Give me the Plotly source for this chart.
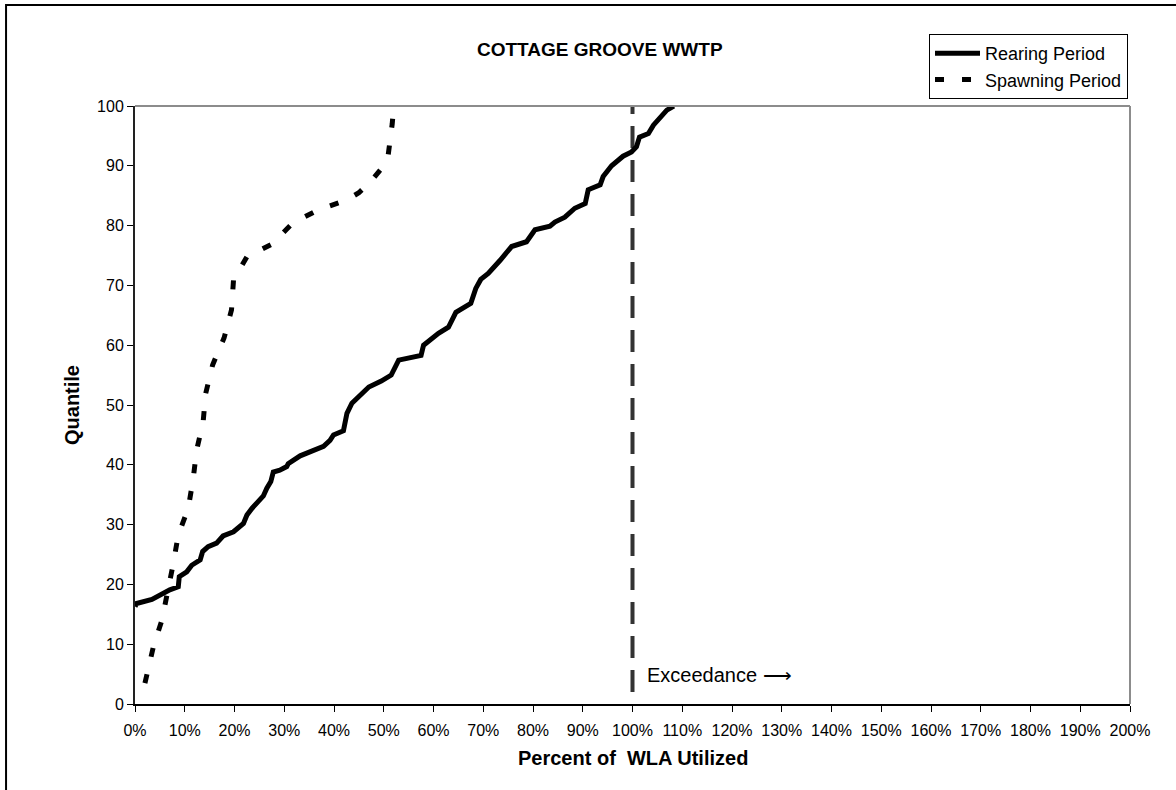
import plotly.graph_objects as go

# ---- data ----
rearing_x = [0, 0.3, 3.4, 5, 7, 8.7, 8.9, 10.4, 11.4, 13.1, 13.6, 14.7, 16.4, 17.7, 19.8,
             21.8, 22.5, 23.5, 24.8, 25.8, 26.5, 27.3, 27.8, 29.1, 30.5, 30.8, 33.2, 37.9,
             39.2, 39.9, 41.9, 42.6, 43.6, 45.2, 47, 49.5, 51.5, 53, 57.5, 58, 59.5, 61, 63,
             64.5, 67.5, 68.5, 69.5, 71, 73.4, 75.7, 78.7, 80.4, 83.4, 84.4, 86.4, 88.4,
             90.5, 91.1, 93.5, 94.1, 95.8, 98.1, 99.8, 100.8, 101.4, 103.2, 104.2, 106.2,
             106.9, 108.3]
rearing_q = [16.3, 16.8, 17.5, 18.2, 19.1, 19.6, 21.3, 22.1, 23.2, 24.1, 25.5, 26.3, 26.9,
             28.1, 28.8, 30.2, 31.6, 32.7, 33.8, 34.8, 36.1, 37.2, 38.8, 39.1, 39.7, 40.2,
             41.5, 43.1, 44.1, 45, 45.7, 48.6, 50.3, 51.7, 53, 54, 55, 57.5, 58.3, 60, 61,
             62, 63, 65.5, 67, 69.5, 71, 72, 74.2, 76.5, 77.3, 79.3, 79.9, 80.6, 81.4, 82.9,
             83.7, 86, 86.8, 88.2, 90, 91.6, 92.3, 93.2, 94.8, 95.4, 96.8, 98.5, 99.3, 100]

spawning_x = [2, 3.7, 5.4, 6.5, 7.7, 8.7, 10.7, 11.7, 12.4, 13.7, 14.2, 15.6, 17.9, 19.4,
              19.8, 22.5, 27.5, 31.8, 36.8, 42.6, 45, 47.5, 49.5, 50.8, 51.3, 51.7, 52]
spawning_q = [3.5, 9.6, 14, 18.2, 23.5, 28.3, 32.7, 37.7, 42.5, 47.2, 51.9, 56.7, 61.2,
              65.9, 70.9, 74.8, 76.9, 80.5, 82.6, 84.3, 85.5, 87.5, 89.5, 91.2, 94, 97, 100]

exceedance_x = 100
exceedance_q = [2, 100]
x_ticks = list(range(0, 201, 10))
y_ticks = list(range(0, 101, 10))

FONT = "Liberation Sans, Arial, sans-serif"

fig = go.Figure()
fig.add_trace(go.Scatter(x=rearing_x, y=rearing_q, mode="lines", name="Rearing Period",
                         line=dict(color="black", width=5)))
fig.add_trace(go.Scatter(x=spawning_x, y=spawning_q, mode="lines", name="Spawning Period",
                         line=dict(color="black", width=5, dash="9px,18px")))

# 100% threshold line
fig.add_shape(type="line", xref="x", yref="y", x0=exceedance_x, x1=exceedance_x,
              y0=exceedance_q[0], y1=exceedance_q[1],
              line=dict(color="#333333", width=4, dash="22px,12px"), layer="below")

# gray top/right plot border
fig.add_shape(type="line", xref="paper", yref="paper", x0=0, x1=1, y0=1, y1=1,
              line=dict(color="#8c8c8c", width=2))
fig.add_shape(type="line", xref="paper", yref="paper", x0=1, x1=1, y0=0, y1=1,
              line=dict(color="#8c8c8c", width=2))
# outer frame
fig.add_shape(type="rect", xref="paper", yref="paper", x0=-0.1296, x1=1.08, y0=-0.17, y1=1.1689,
              line=dict(color="black", width=2))

fig.add_annotation(text="<b>COTTAGE GROOVE WWTP</b>", xref="paper", yref="paper",
                   x=0.4673, y=1.0953, xanchor="center", yanchor="middle", showarrow=False,
                   font=dict(family=FONT, size=19, color="black"))
fig.add_annotation(text="<b>Percent of \u00a0WLA Utilized</b>", xref="paper", yref="paper",
                   x=0.5, y=-0.0903, xanchor="center", yanchor="middle", showarrow=False,
                   font=dict(family=FONT, size=20, color="black"))
fig.add_annotation(text="<b>Quantile</b>", xref="paper", yref="paper", textangle=-90,
                   x=-0.0633, y=0.5, xanchor="center", yanchor="middle", showarrow=False,
                   font=dict(family=FONT, size=20, color="black"))
fig.add_annotation(text="Exceedance \u27f6", xref="x", yref="y", x=102.5, y=4.85,
                   xanchor="left", yanchor="middle", showarrow=False,
                   font=dict(family=FONT, size=20, color="black"))

fig.update_layout(
    width=1176, height=790,
    margin=dict(l=135, r=46, t=106, b=86),
    paper_bgcolor="white", plot_bgcolor="white",
    font=dict(family=FONT, size=16, color="black"),
    showlegend=True,
    legend=dict(x=0.798, y=1.1204, xanchor="left", yanchor="top",
                bgcolor="white", bordercolor="black", borderwidth=1,
                font=dict(family=FONT, size=18, color="black"),
                itemwidth=45, tracegroupgap=0),
    xaxis=dict(range=[0, 200], tickvals=x_ticks, ticktext=[f"{v}%" for v in x_ticks],
               showgrid=False, zeroline=False, showline=True, linecolor="black", linewidth=2,
               ticks="outside", ticklen=6, tickcolor="black", tickwidth=1,
               ticklabelstandoff=5,
               tickfont=dict(family=FONT, size=16, color="black")),
    yaxis=dict(range=[0, 100], tickvals=y_ticks, showgrid=False, zeroline=False,
               showline=True, linecolor="#222222", linewidth=2,
               ticks="outside", ticklen=6, tickcolor="black", tickwidth=1,
               tickfont=dict(family=FONT, size=16, color="black")),
)

fig.write_html("out.html", config={"displayModeBar": False},
               post_script="document.body.style.margin='0';")
